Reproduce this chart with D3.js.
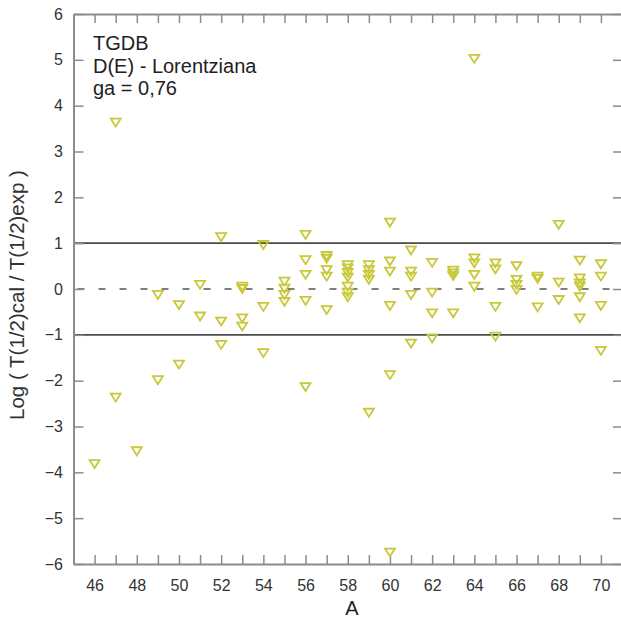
<!DOCTYPE html>
<html>
<head>
<meta charset="utf-8">
<script src="https://cdn.jsdelivr.net/npm/d3@7"></script>
<style>
  body { margin: 0; background: #fff; }
  text { font-family: "Liberation Sans", Arial, sans-serif; }
</style>
</head>
<body>
<div id="chart"></div>
<script>
// mass numbers and the log ratios read at each of them
const massNumbers = [46, 47, 48, 49, 50, 51, 52, 53, 54, 55, 56, 57, 58,
                     59, 60, 61, 62, 63, 64, 65, 66, 67, 68, 69, 70];
const logRatios = [
    [-3.82],
    [3.63, -2.37],
    [-3.54],
    [-0.13, -1.99],
    [-0.35, -1.65],
    [0.09, -0.60],
    [1.13, -0.71, -1.22],
    [0.05, 0.0, -0.64, -0.82],
    [0.96, -0.39, -1.40],
    [0.16, 0.01, -0.13, -0.28],
    [1.18, 0.63, 0.31, -0.26, -2.14],
    [0.72, 0.66, 0.41, 0.27, -0.46],
    [0.52, 0.45, 0.35, 0.25, 0.05, -0.08, -0.18],
    [0.52, 0.41, 0.31, 0.20, -2.70],
    [1.45, 0.60, 0.38, -0.37, -1.88, -5.75],
    [0.84, 0.38, 0.27, -0.13, -1.19],
    [0.57, -0.08, -0.53, -1.08],
    [0.40, 0.34, 0.28, -0.53],
    [5.02, 0.67, 0.56, 0.31, 0.05],
    [0.56, 0.43, -0.39, -1.04],
    [0.50, 0.20, 0.09, -0.02],
    [0.27, 0.22, -0.40],
    [1.40, 0.14, -0.24],
    [0.62, 0.23, 0.12, 0.05, -0.18, -0.64],
    [0.54, 0.27, -0.37, -1.35]
];
const xDomain = [45, 71];
const yDomain = [-6, 6];
const yTicks = [-6, -5, -4, -3, -2, -1, 0, 1, 2, 3, 4, 5, 6];
const xLabelTicks = [46, 48, 50, 52, 54, 56, 58, 60, 62, 64, 66, 68, 70];
const limitLines = [1, -1];
const infoLines = ["TGDB", "D(E) - Lorentziana", "ga = 0,76"];

const points = [];
massNumbers.forEach((a, i) => logRatios[i].forEach(v => points.push({ a: a, v: v })));

const margin = { top: 14, right: 0, bottom: 54, left: 73.5 };
const width = 548.5;
const height = 550;

const svg = d3.select("#chart").append("svg")
    .attr("width", 621)
    .attr("height", 618)
    .append("g")
    .attr("transform", "translate(" + margin.left + "," + margin.top + ")");

const x = d3.scaleLinear().domain(xDomain).range([0, width]);
const y = d3.scaleLinear().domain(yDomain).range([height, 0]);
const allX = d3.range(xDomain[0] + 1, xDomain[1]);

// reference lines
svg.selectAll("line.limit")
    .data(limitLines)
    .enter().append("line")
    .attr("class", "limit")
    .attr("x1", 0).attr("x2", width)
    .attr("y1", d => y(d)).attr("y2", d => y(d))
    .attr("stroke", "#4a4a4a")
    .attr("stroke-width", 1.6);

svg.append("line")
    .attr("x1", 0).attr("x2", width)
    .attr("y1", y(0)).attr("y2", y(0))
    .attr("stroke", "#555")
    .attr("stroke-width", 1.4)
    .attr("stroke-dasharray", "7,14")
    .attr("stroke-dashoffset", -4);

// axes, ticks all pointing inwards
function styleAxis(g) {
    g.select(".domain").attr("stroke", "#8c8c8c").attr("stroke-width", 2);
    g.selectAll(".tick line").attr("stroke", "#8c8c8c").attr("stroke-width", 1.5);
    g.selectAll(".tick text").attr("fill", "#333").style("font-size", "16px");
}

svg.append("g")
    .attr("transform", "translate(0," + height + ")")
    .call(d3.axisBottom(x).tickValues(allX).tickSize(-9).tickSizeOuter(0).tickPadding(16)
        .tickFormat(d => xLabelTicks.includes(d) ? d : ""))
    .call(styleAxis);

svg.append("g")
    .call(d3.axisTop(x).tickValues(allX).tickSize(-9).tickSizeOuter(0).tickFormat(""))
    .call(styleAxis);

svg.append("g")
    .call(d3.axisLeft(y).tickValues(yTicks).tickSize(-10).tickSizeOuter(0).tickPadding(10.5)
        .tickFormat(d3.format("d")))
    .call(styleAxis);

svg.append("g")
    .attr("transform", "translate(" + width + ",0)")
    .call(d3.axisRight(y).tickValues(yTicks).tickSize(-9).tickSizeOuter(0).tickFormat(""))
    .call(styleAxis);

// hollow downward triangles
const tri = "M-5,-4L5,-4L0,4Z";
svg.selectAll("path.pt")
    .data(points)
    .enter().append("path")
    .attr("class", "pt")
    .attr("d", tri)
    .attr("transform", d => `translate(${x(d.a)},${y(d.v)})`)
    .attr("fill", "none")
    .attr("stroke", "#c8c83a")
    .attr("stroke-width", 1.8);

// annotation
svg.selectAll("text.info")
    .data(infoLines)
    .enter().append("text")
    .attr("class", "info")
    .attr("x", 19.5)
    .attr("y", (d, i) => 36 + i * 22.5)
    .style("font-size", "20px")
    .attr("fill", "#222")
    .text(d => d);

// axis titles
svg.append("text")
    .attr("x", x(58.2))
    .attr("y", height + 51)
    .attr("text-anchor", "middle")
    .style("font-size", "20px")
    .attr("fill", "#222")
    .text("A");

svg.append("text")
    .attr("transform", "translate(-49.5," + (y(0) + 6) + ") rotate(-90)")
    .attr("text-anchor", "middle")
    .style("font-size", "20.5px")
    .attr("fill", "#333")
    .text("Log ( T(1/2)cal / T(1/2)exp )");
</script>
</body>
</html>
